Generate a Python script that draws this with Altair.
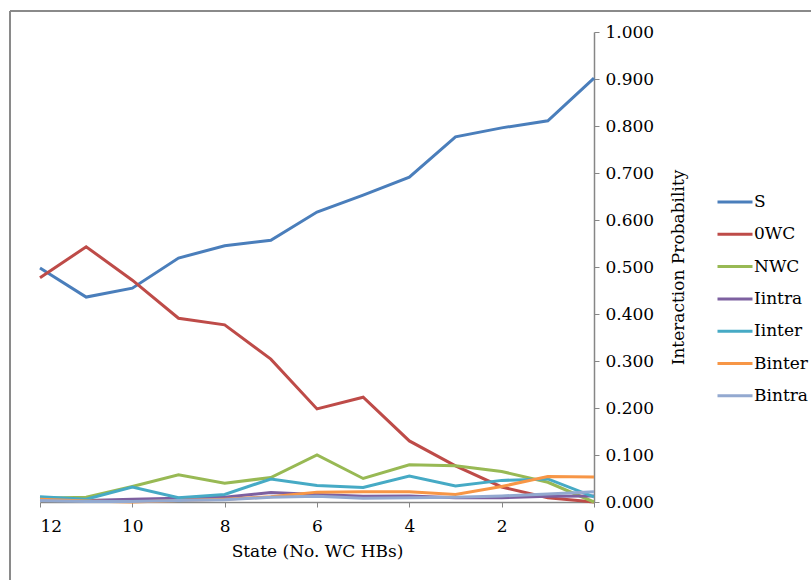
import altair as alt
import pandas as pd

states = [12, 11, 10, 9, 8, 7, 6, 5, 4, 3, 2, 1, 0]
series_names = ["S", "0WC", "NWC", "Iintra", "Iinter", "Binter", "Bintra"]
S = [0.498, 0.436, 0.455, 0.519, 0.545, 0.557, 0.617, 0.653, 0.691, 0.777, 0.796, 0.811, 0.902]
WC0 = [0.477, 0.543, 0.472, 0.391, 0.377, 0.304, 0.198, 0.223, 0.130, 0.077, 0.032, 0.009, 0.000]
NWC = [0.008, 0.010, 0.033, 0.058, 0.040, 0.052, 0.100, 0.050, 0.079, 0.077, 0.065, 0.042, 0.000]
Iintra = [0.004, 0.003, 0.006, 0.008, 0.010, 0.020, 0.016, 0.012, 0.013, 0.009, 0.009, 0.012, 0.013]
Iinter = [0.011, 0.006, 0.032, 0.009, 0.016, 0.049, 0.035, 0.031, 0.055, 0.034, 0.046, 0.049, 0.011]
Binter = [0.006, 0.002, 0.000, 0.003, 0.006, 0.011, 0.021, 0.022, 0.022, 0.016, 0.033, 0.054, 0.053]
Bintra = [0.003, 0.001, 0.001, 0.003, 0.005, 0.010, 0.012, 0.008, 0.009, 0.010, 0.013, 0.017, 0.022]
colors = ["#4A7EBB", "#BE4B48", "#98B954", "#7D60A0", "#46AAC5", "#F79646", "#93A9D0"]

values = [S, WC0, NWC, Iintra, Iinter, Binter, Bintra]
rows = []
for name, vals in zip(series_names, values):
    for st, v in zip(states, vals):
        rows.append({"state": st, "series": name, "p": v})
df = pd.DataFrame(rows)

FONT = "DejaVu Serif"
FS = 17

lines = alt.Chart(df).mark_line(strokeWidth=3).encode(
    x=alt.X("state:Q",
            scale=alt.Scale(domain=[12, 0], nice=False, zero=False),
            axis=alt.Axis(values=[12, 10, 8, 6, 4, 2, 0], title="State (No. WC HBs)",
                          grid=False, tickSize=5, labelPadding=11, titlePadding=9,
                          labelFont=FONT, titleFont=FONT, labelFontSize=FS, titleFontSize=FS)),
    y=alt.Y("p:Q",
            scale=alt.Scale(domain=[0, 1], nice=False),
            axis=alt.Axis(orient="right", format=".3f", values=[i / 10 for i in range(11)],
                          title="Interaction Probability", grid=False, tickSize=5,
                          labelPadding=6, titlePadding=34, titleAngle=270,
                          labelFont=FONT, titleFont=FONT, labelFontSize=FS, titleFontSize=FS)),
    color=alt.Color("series:N",
                    scale=alt.Scale(domain=series_names, range=colors),
                    sort=series_names,
                    legend=alt.Legend(title=None, orient="none", legendX=676, legendY=151,
                                      symbolType="stroke", symbolSize=1225,
                                      symbolStrokeWidth=3, rowPadding=5.3,
                                      labelOffset=0, labelFontSize=FS, labelFont=FONT,
                                      labelColor="black")),
    order=alt.Order("state:Q", sort="descending"),
)

border_top = alt.Chart(pd.DataFrame({"a": [0]})).mark_rule(color="#8a8a8a", strokeWidth=2).encode(
    x=alt.value(-30), x2=alt.value(780), y=alt.value(-21))
border_left = alt.Chart(pd.DataFrame({"a": [0]})).mark_rule(color="#8a8a8a", strokeWidth=2).encode(
    x=alt.value(-30), y=alt.value(-21), y2=alt.value(560))

chart = alt.layer(border_top, border_left, lines).properties(
    width=554, height=470,
    autosize=alt.AutoSizeParams(type="none"),
    padding={"left": 40, "top": 32, "right": 217, "bottom": 78},
).configure_view(stroke=None).configure_axis(
    domainColor="#868686", tickColor="#868686", labelFont=FONT, titleFont=FONT,
    labelFontSize=FS, titleFontSize=FS, labelColor="black", titleColor="black",
    titleFontWeight="normal", domainWidth=1.5,
)

chart.save("out.html", embed_options={"renderer": "svg", "actions": False})
